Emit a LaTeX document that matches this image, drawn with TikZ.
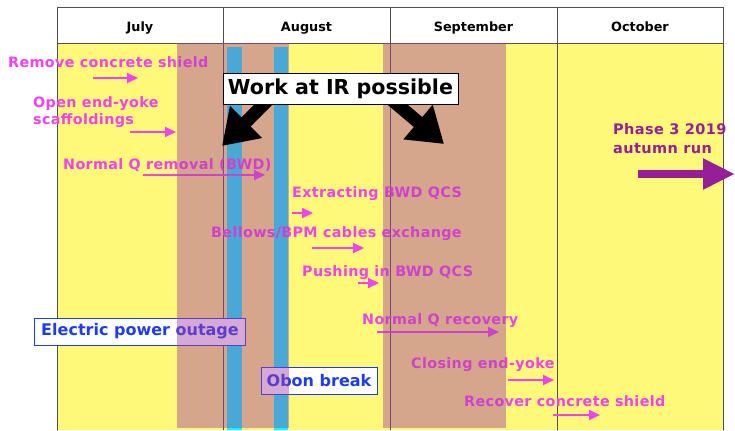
\documentclass[tikz,border=0pt]{standalone}
\usepackage{fontspec}
\setmainfont{DejaVu Sans}
\newfontfamily\widefont[LetterSpace=2.6]{DejaVu Sans}
\usetikzlibrary{arrows.meta}
\definecolor{ylw}{RGB}{255,249,122}
\definecolor{cyanbar}{RGB}{0,255,255}
\definecolor{veil}{RGB}{164,64,164}
\definecolor{tpink}{RGB}{240,66,240}
\definecolor{phasepurple}{RGB}{150,30,150}
\definecolor{outblue}{RGB}{30,60,235}
\definecolor{gridgray}{RGB}{80,80,80}
\begin{document}
\begin{tikzpicture}[x=1bp,y=-1bp,
  month/.style={font=\bfseries\fontsize{12.8bp}{15bp}\selectfont, anchor=base, inner sep=0pt},
  task/.style={text=tpink, font=\widefont\bfseries\fontsize{14.3bp}{17bp}\selectfont, anchor=base west, inner sep=0pt},
  taskarrow/.style={draw=tpink, line width=2bp, -{Triangle[length=11bp,width=10bp]}},
  outbox/.style={draw=outblue, line width=1bp, fill=white, text=outblue, font=\bfseries\fontsize{16bp}{19bp}\selectfont, inner sep=0pt},
  bigarrow/.style={draw=black, line width=13bp, -{Triangle[length=34bp,width=43bp]}},
  phase/.style={text=phasepurple, font=\widefont\bfseries\fontsize{14.5bp}{17bp}\selectfont, anchor=base west, inner sep=0pt},
  gridline/.style={draw=gridgray, line width=0.7bp}
]
\useasboundingbox (0,0) rectangle (735,430);
% background
\fill[white] (0,0) rectangle (735,430);
\fill[ylw] (57,43) rectangle (723,430);
% cyan bars (appear blue under veil)
\fill[cyanbar] (227,47) rectangle (242,430);
\fill[cyanbar] (274,47) rectangle (288,430);
% header
\draw[gridline, fill=white] (57,7) rectangle (723,43);
\node[month] (jul) at (140,31) {July};
\node[month] (aug) at (306.5,31) {August};
\node[month] (sep) at (473.5,31) {September};
\node[month] (oct) at (640,31) {October};
% grid lines
\draw[gridline] (57,43) -- (57,430);
\draw[gridline] (223,7) -- (223,430);
\draw[gridline] (390,7) -- (390,430);
\draw[gridline] (557,7) -- (557,430);
\draw[gridline] (723,43) -- (723,430);
% tasks
\node[task] (t1) at (8,67) {Remove concrete shield};
\coordinate (a1s) at (93,78); \coordinate (a1e) at (138,78);
\draw[taskarrow] (a1s) -- (a1e);
\node[task] (t2a) at (33,107) {Open end-yoke};
\node[task] (t2b) at (33,124) {scaffoldings};
\coordinate (a2s) at (130,132); \coordinate (a2e) at (176,132);
\draw[taskarrow] (a2s) -- (a2e);
\node[task] (t3) at (63,169) {Normal Q removal (BWD)};
\coordinate (a3s) at (143,175); \coordinate (a3e) at (265,175);
\draw[taskarrow] (a3s) -- (a3e);
\node[task] (t4) at (292,197) {Extracting BWD QCS};
\coordinate (a4s) at (292,213); \coordinate (a4e) at (313,213);
\draw[taskarrow] (a4s) -- (a4e);
\node[task] (t5) at (211,237) {Bellows/BPM cables exchange};
\coordinate (a5s) at (312,248); \coordinate (a5e) at (364,248);
\draw[taskarrow] (a5s) -- (a5e);
\node[task] (t6) at (302,276) {Pushing in BWD QCS};
\coordinate (a6s) at (358,283); \coordinate (a6e) at (379,283);
\draw[taskarrow] (a6s) -- (a6e);
\node[task] (t7) at (362,324) {Normal Q recovery};
\coordinate (a7s) at (377,332); \coordinate (a7e) at (499,332);
\draw[taskarrow] (a7s) -- (a7e);
\node[task] (t8) at (411,368) {Closing end-yoke};
\coordinate (a8s) at (508,380); \coordinate (a8e) at (554,380);
\draw[taskarrow] (a8s) -- (a8e);
\node[task] (t9) at (464,406) {Recover concrete shield};
\coordinate (a9s) at (553,415); \coordinate (a9e) at (600,415);
\draw[taskarrow] (a9s) -- (a9e);
% outage boxes
\node[outbox, minimum width=210bp, minimum height=27bp] (power) at (140,331.5) {Electric power outage};
\node[outbox, minimum width=116bp, minimum height=27bp] (obon) at (319,380.5) {Obon break};
% veils
\fill[veil, fill opacity=0.45] (177,43) rectangle (289,428);
\fill[veil, fill opacity=0.45] (383,43) rectangle (506,428);
% work at IR
\coordinate (wlTail) at (268,100); \coordinate (wlTip) at (222,146);
\coordinate (wrTail) at (392,100); \coordinate (wrTip) at (444,144);
\draw[bigarrow] (wlTail) -- (wlTip);
\draw[bigarrow] (wrTail) -- (wrTip);
\node[draw=black, line width=1bp, fill=white, inner sep=0pt, minimum width=235bp, minimum height=31bp,
      font=\bfseries\fontsize{20.6bp}{24bp}\selectfont] (work) at (340.5,88.5) {Work at IR possible};
% phase 3
\node[phase] (ph1) at (613,134) {Phase 3 2019};
\node[phase] (ph2) at (613,153) {autumn run};
\coordinate (phs) at (638,174); \coordinate (phe) at (735,174);
\draw[draw=phasepurple, line width=8bp, -{Triangle[length=32bp,width=29bp]}] (phs) -- (phe);
\end{tikzpicture}
\end{document}
